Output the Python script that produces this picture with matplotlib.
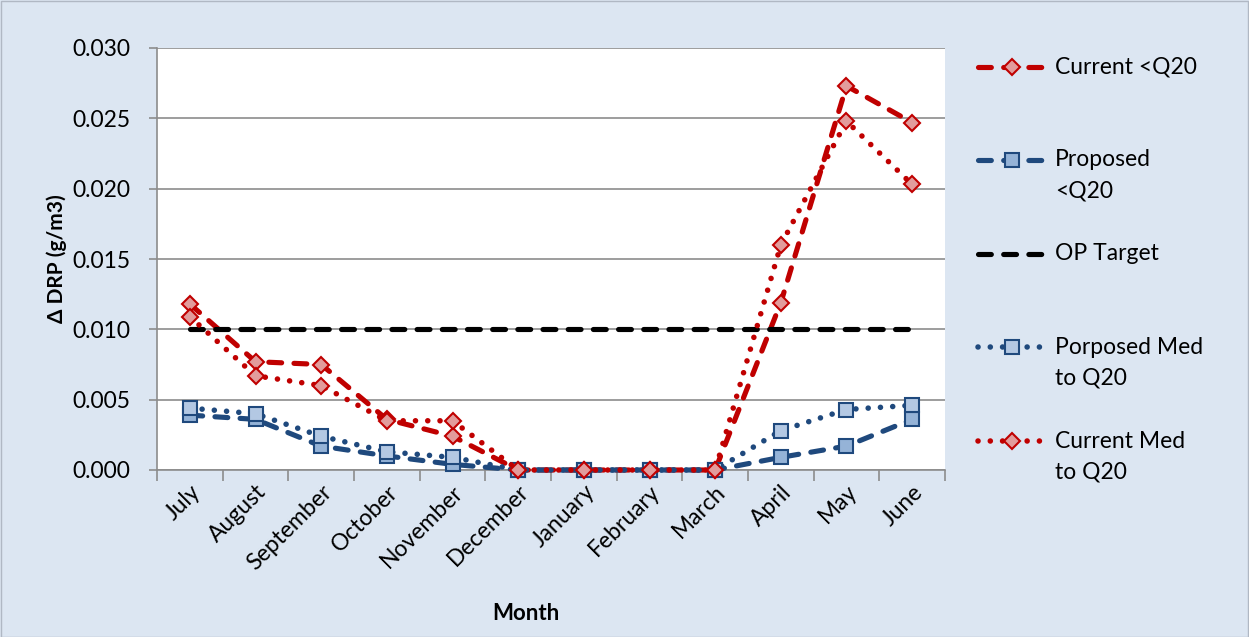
import matplotlib
matplotlib.use("Agg")
import matplotlib.pyplot as plt
from matplotlib.lines import Line2D
from matplotlib.patches import Rectangle
import numpy as np

months = ["July", "August", "September", "October", "November", "December",
          "January", "February", "March", "April", "May", "June"]

current_lt_q20 = [0.0118, 0.0077, 0.0075, 0.0036, 0.0024, 0.0, 0.0, 0.0, 0.0, 0.0119, 0.0273, 0.0247]
proposed_lt_q20 = [0.0039, 0.0036, 0.0017, 0.0010, 0.0004, 0.0, 0.0, 0.0, 0.0, 0.0009, 0.0017, 0.0036]
op_target = [0.010] * 12
proposed_med_q20 = [0.0044, 0.0040, 0.0024, 0.0013, 0.0009, 0.0, 0.0, 0.0, 0.0, 0.0028, 0.0043, 0.0046]
current_med_q20 = [0.0109, 0.0067, 0.0060, 0.0035, 0.0035, 0.0, 0.0, 0.0, 0.0, 0.0160, 0.0248, 0.0203]

plt.rcParams["font.family"] = ["Lato", "DejaVu Sans"]

BG = "#DCE6F2"
RED = "#C00000"
RED_FACE = "#E29C9C"
BLUE = "#1F497D"
BLUE_FACE = "#B3C8E3"
BLUE_FACE2 = "#95B3D7"

fig = plt.figure(figsize=(12.49, 6.37), dpi=100, facecolor=BG)
ax = fig.add_axes([157 / 1249, 1 - 470 / 637, (945 - 157) / 1249, (470 - 48) / 637])
ax.set_facecolor("white")

x = np.arange(len(months))

dash = (2.5, 2.4)
dot = (0.01, 2.2)

series = [
    dict(y=current_lt_q20, color=RED, lw=3.7, dashes=dash, marker="D", ms=8.5, mfc=RED_FACE, mec=RED, z=3),
    dict(y=proposed_lt_q20, color=BLUE, lw=3.7, dashes=dash, marker="s", ms=10, mfc=BLUE_FACE2, mec=BLUE, z=3),
    dict(y=op_target, color="black", lw=3.7, dashes=dash, marker=None, ms=0, mfc="none", mec="none", z=3),
    dict(y=proposed_med_q20, color=BLUE, lw=4.0, dashes=dot, marker="s", ms=10, mfc=BLUE_FACE, mec=BLUE, z=4),
    dict(y=current_med_q20, color=RED, lw=4.0, dashes=dot, marker="D", ms=8.5, mfc=RED_FACE, mec=RED, z=5),
]

for s in series:
    ax.plot(x, s["y"], color=s["color"], lw=s["lw"], dashes=s["dashes"],
            dash_capstyle="round", marker=s["marker"], markersize=s["ms"],
            markerfacecolor=s["mfc"], markeredgecolor=s["mec"], markeredgewidth=1.5,
            zorder=s["z"], clip_on=False)

ax.set_xlim(-0.5, 11.5)
ax.set_ylim(0, 0.030)
ax.set_yticks(np.arange(0, 0.0301, 0.005))
ax.set_yticklabels([f"{v:.3f}" for v in np.arange(0, 0.0301, 0.005)], fontsize=16.5)
ax.yaxis.grid(True, color="#8C8C8C", lw=1.2, zorder=0)
ax.set_axisbelow(True)

ax.set_xticks(x)
ax.set_xticklabels(months, rotation=45, ha="right", rotation_mode="anchor", fontsize=16.5)
ax.tick_params(axis="x", length=0, pad=8)
ax.set_xticks(np.arange(-0.5, 12, 1), minor=True)
ax.tick_params(axis="x", which="minor", length=8, color="#8C8C8C", width=1.2)
ax.tick_params(axis="y", length=6, color="#8C8C8C", width=1.2, pad=13)

for side in ["top", "right"]:
    ax.spines[side].set_visible(False)
for side in ["left", "bottom"]:
    ax.spines[side].set_color("#8C8C8C")
    ax.spines[side].set_linewidth(1.2)

ax.set_ylabel("Δ DRP (g/m3)", fontsize=15, fontweight="bold", labelpad=4)
fig.text(526 / 1249, 1 - 614 / 637, "Month", fontsize=16, fontweight="bold", ha="center", va="center")

# Legend drawn in figure pixel coordinates
W, H = 1249, 637
legend_rows = [
    (0, 67, ["Current <Q20"]),
    (1, 160, ["Proposed", "<Q20"]),
    (2, 254, ["OP Target"]),
    (3, 347, ["Porposed Med", "to Q20"]),
    (4, 441, ["Current Med", "to Q20"]),
]
for idx, ypix, lines in legend_rows:
    s = series[idx]
    yf = 1 - ypix / H
    xs = [978 / W, 1012 / W, 1046 / W]
    ln = Line2D(xs, [yf] * 3, transform=fig.transFigure, color=s["color"], lw=s["lw"],
                dashes=s["dashes"], dash_capstyle="round", marker=s["marker"],
                markersize=s["ms"], markerfacecolor=s["mfc"], markeredgecolor=s["mec"],
                markeredgewidth=1.5, markevery=[1])
    fig.add_artist(ln)
    for k, t in enumerate(lines):
        fig.text(1055 / W, 1 - (ypix + k * 31) / H, t, fontsize=16.5, ha="left", va="center")

fig.add_artist(Rectangle((0.5 / W, 0.5 / H), 1 - 1.5 / W, 1 - 1.5 / H, transform=fig.transFigure,
                         fill=False, edgecolor="#B0B8C4", lw=1))

fig.savefig("out.png", dpi=100, facecolor=BG)
